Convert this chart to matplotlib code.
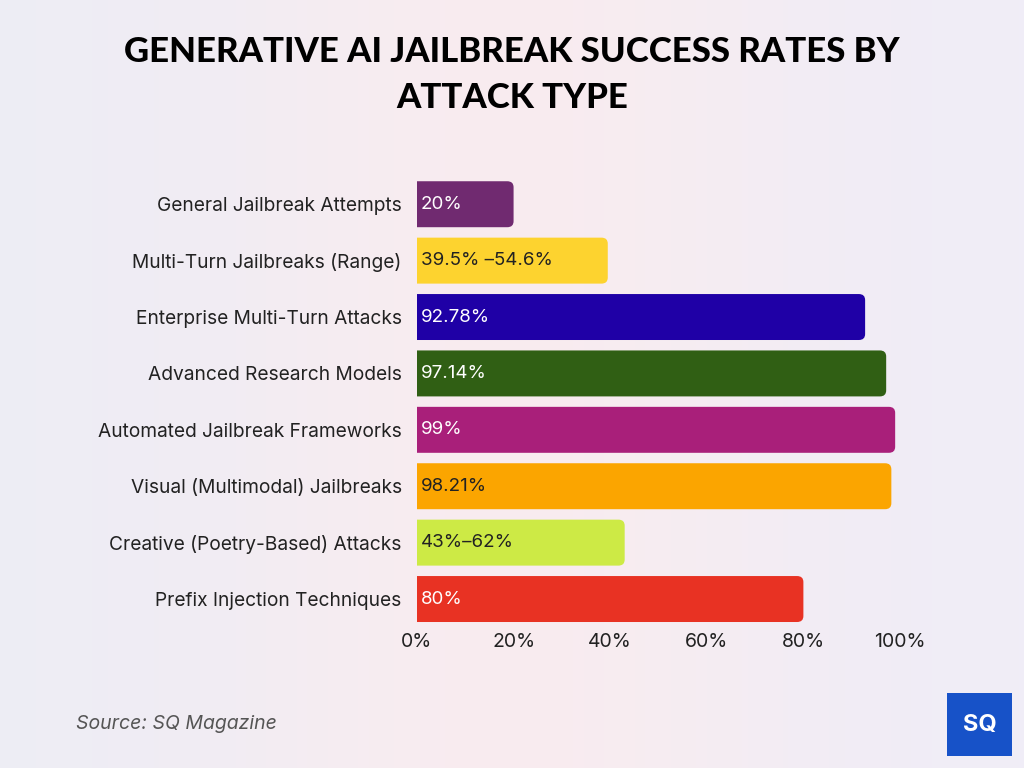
import matplotlib
matplotlib.use("Agg")
import matplotlib.pyplot as plt
from matplotlib.patches import FancyBboxPatch, Rectangle
import numpy as np

# data
categories = [
    "General Jailbreak Attempts",
    "Multi-Turn Jailbreaks (Range)",
    "Enterprise Multi-Turn Attacks",
    "Advanced Research Models",
    "Automated Jailbreak Frameworks",
    "Visual (Multimodal) Jailbreaks",
    "Creative (Poetry-Based) Attacks",
    "Prefix Injection Techniques",
]
values = [20, 39.5, 92.78, 97.14, 99, 98.21, 43, 80]
value_labels = ["20%", "39.5% \u201354.6%", "92.78%", "97.14%", "99%", "98.21%", "43%\u201362%", "80%"]
colors = ["#702A70", "#FDD32F", "#1F00A6", "#305F14", "#A91F7A", "#FBA500", "#CDEA45", "#E83223"]
text_colors = ["white", "#222222", "white", "white", "white", "#222222", "#222222", "white"]
xticks = [0, 20, 40, 60, 80, 100]

plt.rcParams['font.family'] = ['Inter', 'DejaVu Sans']

fig = plt.figure(figsize=(10.24, 7.68), dpi=100)

# soft gradient background
bg = fig.add_axes([0, 0, 1, 1])
bg.axis('off')
gx = np.linspace(0, 1, 200)
gy = np.linspace(0, 1, 150)
X, Y = np.meshgrid(gx, gy)
left = np.array([0.93, 0.93, 0.96])
pink = np.array([0.975, 0.925, 0.94])
right = np.array([0.94, 0.93, 0.97])
w = np.exp(-((X - 0.5) ** 2) / 0.08)[..., None]
img = left * (1 - X[..., None]) * (1 - w) + right * X[..., None] * (1 - w) + pink * w
bg.imshow(np.clip(img, 0, 1), aspect='auto', extent=[0, 1, 0, 1], origin='upper')
bg.set_xlim(0, 1)
bg.set_ylim(0, 1)

ax = fig.add_axes([0.4072, 0.1833, 0.4717, 0.5875])
ax.patch.set_alpha(0)
ypos = np.arange(len(categories))
bars = ax.barh(ypos, values, height=0.815, color=colors, alpha=0)

# rounded right ends; left ends start below 0 and get clipped square
for b, c in zip(bars, colors):
    x0, y0 = b.get_x(), b.get_y()
    wd, ht = b.get_width(), b.get_height()
    p = FancyBboxPatch((x0 - 5, y0), wd + 5, ht,
                       boxstyle="round,pad=0,rounding_size=1.3",
                       mutation_aspect=0.082, fc=c, ec='none')
    ax.add_patch(p)
    p.set_clip_path(ax.patch)

for y, lab, tc in zip(ypos, value_labels, text_colors):
    ax.text(0.8, y, lab, va='center', ha='left', fontsize=13.5, color=tc)

ax.set_xlim(0, 100)
ax.set_ylim(len(categories) - 0.5, -0.5)
ax.set_yticks(ypos)
ax.set_yticklabels(categories, fontsize=13.8, color='#222222')
ax.set_xticks(xticks)
ax.set_xticklabels([f"{t}%" for t in xticks], fontsize=14, color='#222222')
ax.tick_params(length=0, pad=4)
ax.tick_params(axis='y', pad=11)
for s in ax.spines.values():
    s.set_visible(False)

fig.text(0.5, 0.902, "GENERATIVE AI JAILBREAK SUCCESS RATES BY\nATTACK TYPE",
         ha='center', va='center', fontsize=25, fontweight='black',
         family=['Lato', 'DejaVu Sans'], color='black', linespacing=1.55)

fig.text(0.074, 0.057, "Source: SQ Magazine", fontsize=14, style='italic', color='#555555',
         va='center', ha='left')

# logo
fig.patches.append(Rectangle((0.925, 0.015), 0.063, 0.083, transform=fig.transFigure,
                             fc='#1752C8', ec='none'))
fig.text(0.9565, 0.056, "SQ", ha='center', va='center', fontsize=17, fontweight='bold',
         color='white')

fig.savefig("out.png", dpi=100)
